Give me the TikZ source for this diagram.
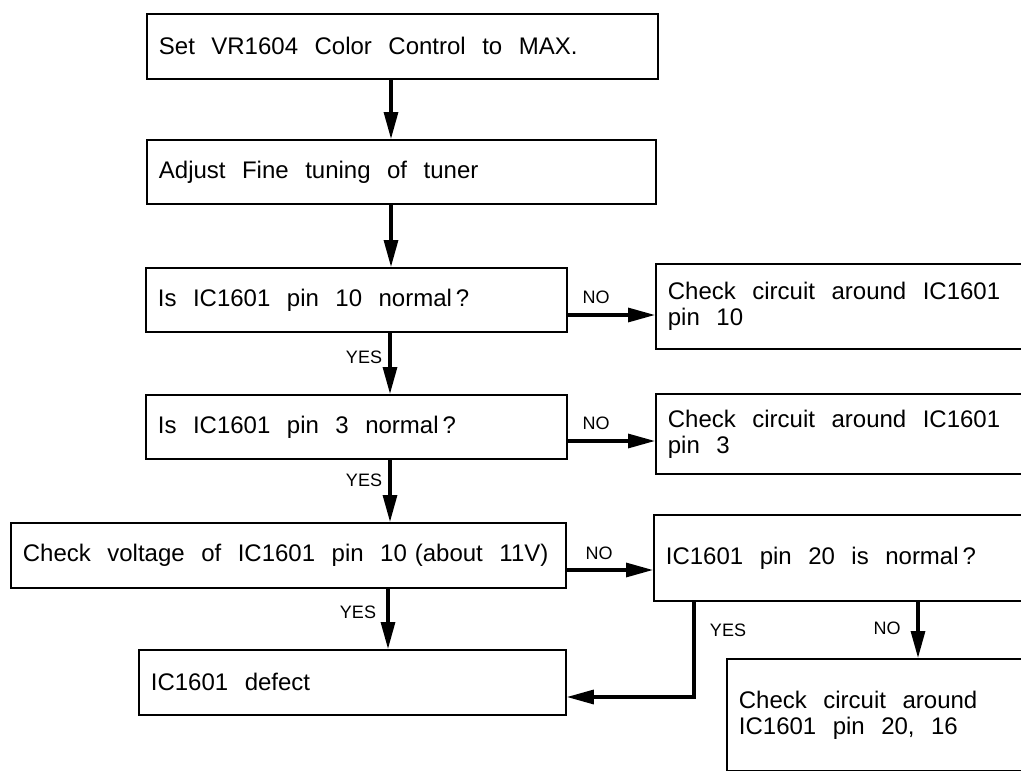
\documentclass[tikz,border=0pt]{standalone}
\usepackage{fontspec}
\setmainfont{Liberation Sans}
\usetikzlibrary{arrows.meta}
\newcommand{\bx}[2]{\parbox{#1}{\spaceskip=16.5pt plus 1pt minus 1pt\relax\baselineskip=26pt\relax #2}}
\begin{document}
\begin{tikzpicture}[x=1pt,y=-1pt,
  box/.style={draw,line width=1.8pt,inner xsep=12pt,inner ysep=0pt,anchor=north west,
    font=\fontsize{24pt}{26pt}\selectfont},
  arr/.style={line width=3.2pt,-{Triangle[length=27pt,width=14pt]}},
  lab/.style={inner sep=0pt,font=\fontsize{18pt}{20pt}\selectfont}]
\useasboundingbox (0,0) rectangle (1021,771);
\clip (0,0) rectangle (1021,771);
% main column
\node[box,minimum height=65pt] (b1) at (146,13) {\bx{487pt}{Set VR1604 Color Control to MAX.}};
\node[box,minimum height=64pt] (b2) at (146,139) {\bx{485pt}{Adjust Fine tuning of tuner}};
\node[box,minimum height=64pt] (b3) at (145,267) {\bx{397pt}{Is IC1601 pin 10 normal\,?}};
\node[box,minimum height=64pt] (b4) at (145,394) {\bx{397pt}{Is IC1601 pin 3 normal\,?}};
\node[box,minimum height=65pt] (b5) at (10,522) {\bx{531pt}{Check voltage of IC1601 pin 10\hspace{8pt}(about 11V)}};
\node[box,minimum height=65pt] (b6) at (138,649) {\bx{403pt}{IC1601 defect}};
% right column
\node[box,minimum height=85pt] (r1) at (655,263) {\bx{376pt}{Check circuit around IC1601\\pin 10}};
\node[box,minimum height=80pt] (r2) at (655,393) {\bx{376pt}{Check circuit around IC1601\\pin 3}};
\node[box,minimum height=86pt] (r3) at (653,514) {\bx{376pt}{IC1601 pin 20 is normal\,?}};
\node[box,minimum height=112pt] (r4) at (726,658) {\bx{306pt}{Check circuit around\\IC1601 pin 20, 16}};
% vertical arrows
\draw[arr] (391,0 |- b1.south) -- (391,0 |- b2.north);
\draw[arr] (391,0 |- b2.south) -- (391,0 |- b3.north);
\draw[arr] (390,0 |- b3.south) -- (390,0 |- b4.north);
\draw[arr] (390,0 |- b4.south) -- (390,0 |- b5.north);
\draw[arr] (388,0 |- b5.south) -- (388,0 |- b6.north);
% NO arrows
\draw[arr] (b3.east |- 0,315) -- (r1.west |- 0,315);
\draw[arr] (b4.east |- 0,441) -- (r2.west |- 0,441);
\draw[arr] (b5.east |- 0,570) -- (r3.west |- 0,570);
\draw[arr] (918,0 |- r3.south) -- (918,0 |- r4.north);
% YES return
\draw[arr] (694,0 |- r3.south) |- (b6.east |- 0,697);
% labels
\node[lab] (y1) at (364,357) {YES};
\node[lab] (y2) at (364,480) {YES};
\node[lab] (y3) at (358,612) {YES};
\node[lab] (y4) at (728,630) {YES};
\node[lab] (n1) at (596,297) {NO};
\node[lab] (n2) at (596,423) {NO};
\node[lab] (n3) at (599,553) {NO};
\node[lab] (n4) at (887,628) {NO};
\end{tikzpicture}
\end{document}
